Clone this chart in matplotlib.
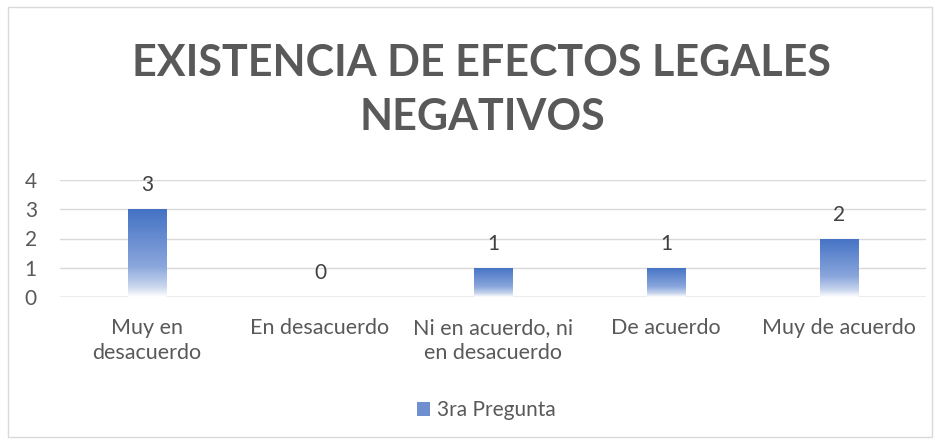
import matplotlib
matplotlib.use("Agg")
import matplotlib.pyplot as plt
import numpy as np
from matplotlib.patches import Rectangle
from matplotlib.colors import LinearSegmentedColormap

categories = ["Muy en\ndesacuerdo", "En desacuerdo", "Ni en acuerdo, ni\nen desacuerdo", "De acuerdo", "Muy de acuerdo"]
values = [3, 0, 1, 1, 2]
series_name = "3ra Pregunta"
title = "EXISTENCIA DE EFECTOS LEGALES\nNEGATIVOS"
yticks = [0, 1, 2, 3, 4]

plt.rcParams['font.family'] = ['Lato', 'DejaVu Sans']
txt = "#595959"

W, H = 940, 443
fig = plt.figure(figsize=(W/100, H/100), dpi=100)
fig.patches.append(Rectangle((8/W, 6/H), 924/W, 430/H, transform=fig.transFigure,
                             fill=False, edgecolor="#D9D9D9", lw=1))

ax = fig.add_axes([60.5/W, 1 - 297/H, 865/W, 117/H])
x = np.arange(len(categories))
bw = 0.225
bars = ax.bar(x, values, width=bw, color="none", edgecolor="none", label=series_name, zorder=3)

cmap = LinearSegmentedColormap.from_list("g", [(0, "#FFFFFF"), (0.12, "#C9D6EE"), (0.35, "#8AA6DC"), (1, "#4472C4")])
grad = np.linspace(0, 1, 256).reshape(-1, 1)
for b, v in zip(bars, values):
    x0 = b.get_x()
    if v > 0:
        im = ax.imshow(grad, extent=(x0, x0 + bw, 0, v), origin="lower", aspect="auto",
                       cmap=cmap, zorder=3)
        im.set_clip_path(b)
    ax.text(x0 + bw/2, v + 0.82, str(v), ha="center", va="center", fontsize=15, color="#404040")

ax.set_xlim(-0.5, len(categories) - 0.5)
ax.set_ylim(0, 4)
ax.set_yticks(yticks)
ax.set_yticklabels([str(t) for t in yticks], fontsize=15, color=txt)
ax.set_xticks(x)
ax.set_xticklabels(categories, fontsize=15.5, color=txt, linespacing=1.35)
ax.tick_params(length=0, pad=15)
ax.tick_params(axis="y", pad=17)
for s in ax.spines.values():
    s.set_visible(False)
ax.grid(axis="y", color="#D9D9D9", lw=1, zorder=0)
ax.axhline(0, color="#BFBFBF", lw=1, zorder=2)
ax.set_facecolor("none")

fig.text(482/W, 1 - 90/H, title, ha="center", va="center", fontsize=31, fontweight="bold",
         color=txt, linespacing=1.4)

# legend
lg_patch = Rectangle((0, 0), 1, 1, facecolor="#6F8FD0", edgecolor="none")
fig.legend([lg_patch], [series_name], loc="center", bbox_to_anchor=(486/W, 1 - 410/H),
           frameon=False, fontsize=15, handlelength=0.65, handleheight=0.65, handletextpad=0.3,
           labelcolor=txt)

fig.savefig("out.png", dpi=100)
